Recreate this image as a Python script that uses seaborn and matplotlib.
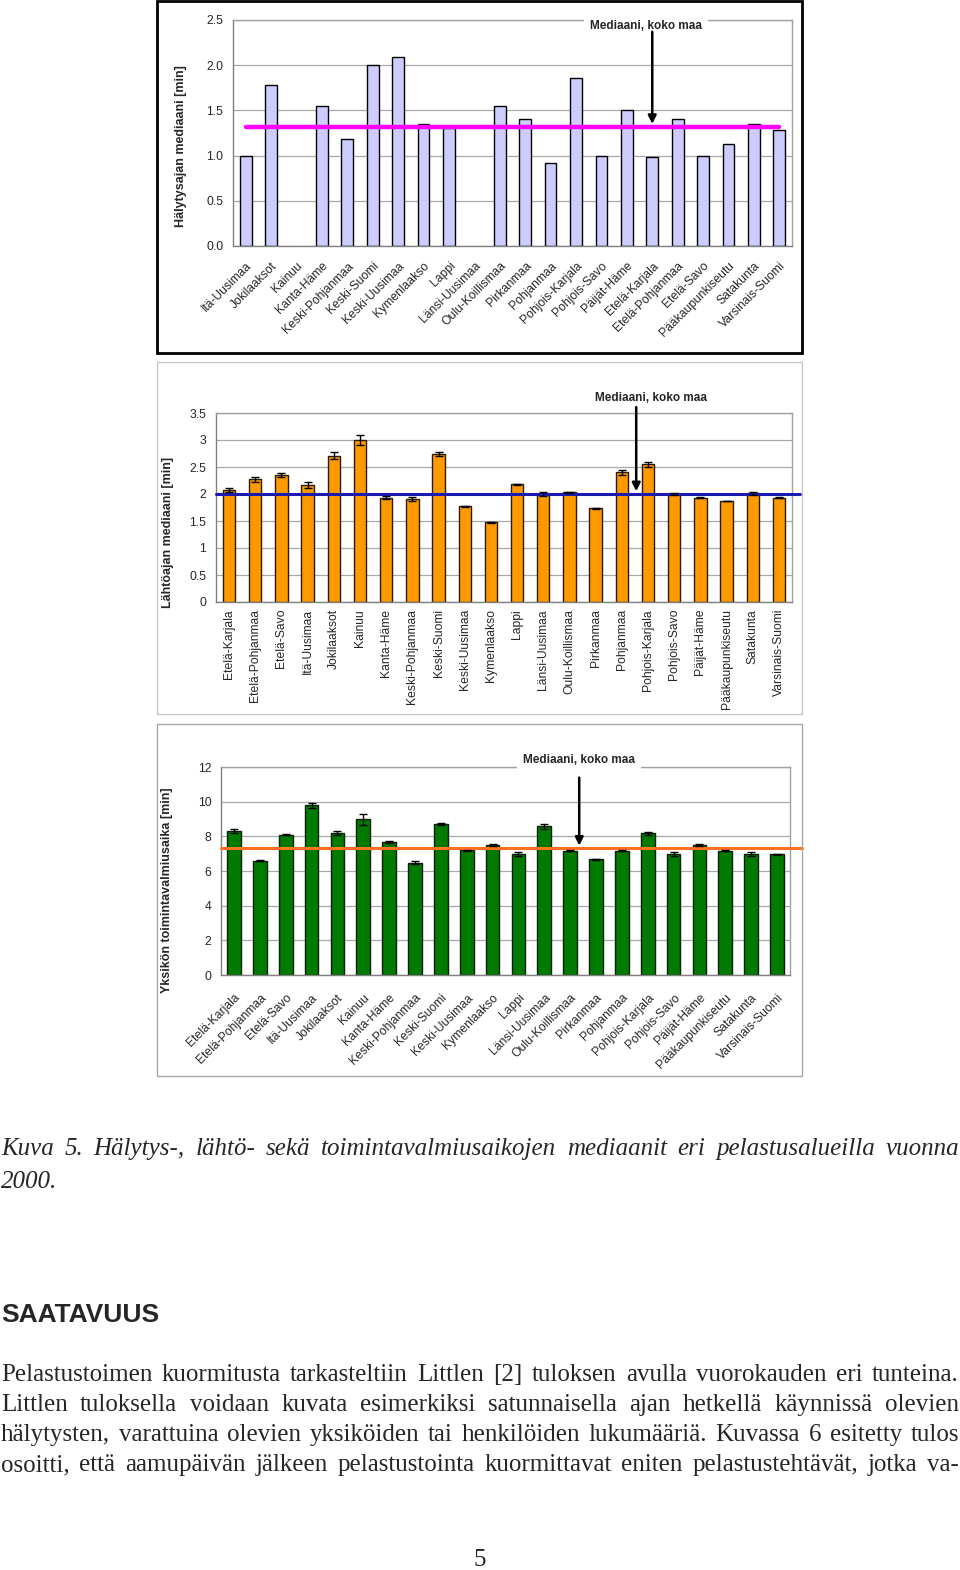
import numpy as np
import pandas as pd
import matplotlib
matplotlib.use("Agg")
import matplotlib.pyplot as plt
from matplotlib.ticker import FixedLocator, AutoMinorLocator
from matplotlib.patches import Rectangle
import seaborn as sns

# --- data ---
# chart 1: alarm time medians (Kainuu and Länsi-Uusimaa have no bar)
alueet_1 = ["Itä-Uusimaa", "Jokilaaksot", "Kainuu", "Kanta-Häme", "Keski-Pohjanmaa",
            "Keski-Suomi", "Keski-Uusimaa", "Kymenlaakso", "Lappi", "Länsi-Uusimaa",
            "Oulu-Koillismaa", "Pirkanmaa", "Pohjanmaa", "Pohjois-Karjala", "Pohjois-Savo",
            "Päijät-Häme", "Etelä-Karjala", "Etelä-Pohjanmaa", "Etelä-Savo",
            "Pääkaupunkiseutu", "Satakunta", "Varsinais-Suomi"]
halytys = [1.0, 1.78, np.nan, 1.55, 1.18, 2.0, 2.09, 1.35, 1.31, np.nan, 1.55, 1.40,
           0.92, 1.86, 1.0, 1.50, 0.98, 1.40, 1.0, 1.13, 1.35, 1.28]
halytys_mediaani = 1.32
halytys_ticks = [0.0, 0.5, 1.0, 1.5, 2.0, 2.5]
halytys_ticklabels = ["0.0", "0.5", "1.0", "1.5", "2.0", "2.5"]

# charts 2 and 3 use the same region order
alueet_2 = ["Etelä-Karjala", "Etelä-Pohjanmaa", "Etelä-Savo", "Itä-Uusimaa", "Jokilaaksot",
            "Kainuu", "Kanta-Häme", "Keski-Pohjanmaa", "Keski-Suomi", "Keski-Uusimaa",
            "Kymenlaakso", "Lappi", "Länsi-Uusimaa", "Oulu-Koillismaa", "Pirkanmaa",
            "Pohjanmaa", "Pohjois-Karjala", "Pohjois-Savo", "Päijät-Häme",
            "Pääkaupunkiseutu", "Satakunta", "Varsinais-Suomi"]
lahto = [2.08, 2.27, 2.35, 2.17, 2.71, 3.0, 1.93, 1.91, 2.74, 1.77, 1.48, 2.18, 2.0,
         2.03, 1.74, 2.40, 2.55, 2.0, 1.93, 1.87, 2.01, 1.93]
lahto_err = [0.04, 0.04, 0.03, 0.05, 0.06, 0.09, 0.03, 0.04, 0.04, 0.01, 0.01, 0.01,
             0.04, 0.01, 0.01, 0.04, 0.05, 0.02, 0.01, 0.005, 0.02, 0.01]
lahto_mediaani = 2.0
lahto_ticks = [0, 0.5, 1, 1.5, 2, 2.5, 3, 3.5]
lahto_ticklabels = ["0", "0.5", "1", "1.5", "2", "2.5", "3", "3.5"]

toiminta = [8.29, 6.60, 8.10, 9.80, 8.19, 8.98, 7.67, 6.49, 8.71, 7.2, 7.48, 6.97, 8.57,
            7.18, 6.68, 7.18, 8.17, 6.97, 7.52, 7.18, 6.97, 6.97]
toiminta_err = [0.12, 0.05, 0.05, 0.15, 0.10, 0.30, 0.04, 0.10, 0.05, 0.03, 0.06, 0.10,
                0.13, 0.02, 0.02, 0.03, 0.10, 0.10, 0.06, 0.02, 0.10, 0.03]
toiminta_mediaani = 7.3
toiminta_ticks = [0, 2, 4, 6, 8, 10, 12]
toiminta_ticklabels = ["0", "2", "4", "6", "8", "10", "12"]

kuvateksti = ["Kuva 5. Hälytys-, lähtö- sekä toimintavalmiusaikojen mediaanit eri pelastusalueilla vuonna",
              "2000."]
otsikko = "SAATAVUUS"
kappale = ["Pelastustoimen kuormitusta tarkasteltiin Littlen [2] tuloksen avulla vuorokauden eri tunteina.",
           "Littlen tuloksella voidaan kuvata esimerkiksi satunnaisella ajan hetkellä käynnissä olevien",
           "hälytysten, varattuina olevien yksiköiden tai henkilöiden lukumääriä. Kuvassa 6 esitetty tulos",
           "osoitti, että aamupäivän jälkeen pelastustointa kuormittavat eniten pelastustehtävät, jotka va-"]
sivunumero = "5"

sns.set_style("white")
plt.rcParams['font.family'] = ['Liberation Sans', 'DejaVu Sans']

W, H = 960, 1570
fig = plt.figure(figsize=(W / 100, H / 100), dpi=100)


def px_axes(x0, y0, x1, y1):
    return fig.add_axes([x0 / W, 1 - y1 / H, (x1 - x0) / W, (y1 - y0) / H])


def frame(x0, y0, x1, y1, color, lw):
    fig.patches.append(Rectangle((x0 / W, 1 - y1 / H), (x1 - x0) / W, (y1 - y0) / H,
                                 transform=fig.transFigure, fill=False,
                                 edgecolor=color, linewidth=lw))


def style_axes(ax, n, ticks, ticklabels, ylabel, label_xy, xpad):
    ax.set_xlim(-0.5, n - 0.5)
    ax.set_ylim(ticks[0], ticks[-1])
    ax.set_yticks(ticks)
    ax.set_yticklabels(ticklabels)
    ax.yaxis.set_minor_locator(AutoMinorLocator(5))
    ax.xaxis.set_minor_locator(FixedLocator(np.arange(n + 1) - 0.5))
    ax.tick_params(axis='x', which='major', length=0, pad=xpad, labelsize=8.7)
    ax.tick_params(axis='x', which='minor', length=4, width=0.8, color='#808080', direction='out')
    ax.tick_params(axis='y', which='major', length=4, width=0.8, color='#808080', labelsize=8.7, pad=3)
    ax.tick_params(axis='y', which='minor', length=2, width=0.6, color='#909090', direction='in')
    ax.grid(axis='y', which='major', color='#A8A8A8', lw=0.9)
    ax.set_axisbelow(True)
    for s in ax.spines.values():
        s.set_color('#A0A0A0')
        s.set_linewidth(1)
    ax.spines['left'].set_color('#808080')
    ax.spines['bottom'].set_color('#808080')
    ax.set_xlabel('')
    ax.set_ylabel(ylabel, fontsize=9, fontweight='bold')
    ax.yaxis.set_label_coords(*label_xy)


# ---------- chart 1 ----------
frame(157, 1, 802, 353, 'black', 2)
ax1 = px_axes(233, 20, 792, 246)
df1 = pd.DataFrame({'alue': alueet_1, 'arvo': halytys})
sns.barplot(data=df1, x='alue', y='arvo', order=alueet_1, color='#CCCCFF',
            edgecolor='black', linewidth=1, width=0.46, saturation=1, errorbar=None, ax=ax1)
style_axes(ax1, len(alueet_1), halytys_ticks, halytys_ticklabels,
           'Hälytysajan mediaani [min]', (-0.083, 0.44), 10)
ax1.set_xticks(range(len(alueet_1)))
ax1.set_xticklabels(alueet_1, rotation=45, ha='right', rotation_mode='anchor')
ax1.plot([0, len(alueet_1) - 1], [halytys_mediaani] * 2, color='#FF00FF', lw=3.2, zorder=4)
ax1.text(15.75, 2.43, 'Mediaani, koko maa', ha='center', va='center', fontsize=8.5,
         fontweight='bold', zorder=6, clip_on=False,
         bbox=dict(boxstyle='square,pad=0.5', fc='white', ec='none'))
ax1.annotate('', xy=(16, halytys_mediaani), xytext=(16, 2.4),
             arrowprops=dict(arrowstyle='-|>', color='black', lw=1.8, mutation_scale=12),
             zorder=7)

# ---------- chart 2 ----------
frame(157, 362, 802, 714, '#C8C8C8', 1)
ax2 = px_axes(216, 413, 792, 602)
df2 = pd.DataFrame({'alue': alueet_2, 'arvo': lahto})
sns.barplot(data=df2, x='alue', y='arvo', order=alueet_2, color='#FF9900',
            edgecolor='#2A1A00', linewidth=1, width=0.47, saturation=1, errorbar=None, ax=ax2)
ax2.errorbar(np.arange(len(alueet_2)), lahto, yerr=lahto_err, fmt='none', ecolor='black',
             elinewidth=1, capsize=3, capthick=1, zorder=5)
style_axes(ax2, len(alueet_2), lahto_ticks, lahto_ticklabels,
           'Lähtöajan mediaani [min]', (-0.073, 0.37), 5)
ax2.set_xticks(range(len(alueet_2)))
ax2.set_xticklabels(alueet_2, rotation=90, ha='center', va='top')
ax2.plot([-0.5, 21.8], [lahto_mediaani] * 2, color='#1A1AB0', lw=2.2, zorder=4, clip_on=False)
ax2.text(16.1, 3.77, 'Mediaani, koko maa', ha='center', va='center', fontsize=8.5,
         fontweight='bold', zorder=6, clip_on=False)
ax2.annotate('', xy=(15.55, lahto_mediaani), xytext=(15.55, 3.66),
             arrowprops=dict(arrowstyle='-|>', color='black', lw=1.8, mutation_scale=12),
             annotation_clip=False, zorder=7)

# ---------- chart 3 ----------
frame(157, 724, 802, 1076, '#A8A8A8', 1)
ax3 = px_axes(221, 767, 790, 975)
df3 = pd.DataFrame({'alue': alueet_2, 'arvo': toiminta})
sns.barplot(data=df3, x='alue', y='arvo', order=alueet_2, color='#007A00',
            edgecolor='#0A200A', linewidth=1, width=0.53, saturation=1, errorbar=None, ax=ax3)
ax3.errorbar(np.arange(len(alueet_2)), toiminta, yerr=toiminta_err, fmt='none', ecolor='black',
             elinewidth=1, capsize=3, capthick=1, zorder=5)
style_axes(ax3, len(alueet_2), toiminta_ticks, toiminta_ticklabels,
           'Yksikön toimintavalmiusaika [min]', (-0.085, 0.41), 12)
ax3.set_xticks(range(len(alueet_2)))
ax3.set_xticklabels(alueet_2, rotation=45, ha='right', rotation_mode='anchor')
ax3.plot([-0.5, 21.96], [toiminta_mediaani] * 2, color='#FF7020', lw=2.2, zorder=4, clip_on=False)
ax3.text(13.35, 12.42, 'Mediaani, koko maa', ha='center', va='center', fontsize=8.5,
         fontweight='bold', zorder=6, clip_on=False,
         bbox=dict(boxstyle='square,pad=0.5', fc='white', ec='none'))
ax3.annotate('', xy=(13.35, toiminta_mediaani), xytext=(13.35, 11.55),
             arrowprops=dict(arrowstyle='-|>', color='black', lw=1.8, mutation_scale=12),
             zorder=7)

# ---------- page text ----------
renderer = fig.canvas.get_renderer()
serif = 'Liberation Serif'


def justified(line, base_y, size, style='normal', x0=1, x1=959):
    words = line.split()
    texts = [fig.text(0, 1 - base_y / H, w, fontsize=size, family=serif,
                      style=style, va='baseline', ha='left') for w in words]
    widths = [t.get_window_extent(renderer).width for t in texts]
    gap = (x1 - x0 - sum(widths)) / (len(words) - 1)
    x = x0
    for t, w in zip(texts, widths):
        t.set_x(x / W)
        x += w + gap


justified(kuvateksti[0], 1155, 18, style='italic')
fig.text(1 / W, 1 - 1188 / H, kuvateksti[1], fontsize=18, family=serif, style='italic',
         va='baseline')
fig.text(1 / W, 1 - 1322 / H, otsikko, fontsize=19, fontweight='bold',
         family='Liberation Sans', va='baseline')
for i, line in enumerate(kappale):
    justified(line, 1381 + 30 * i, 18)
fig.text(480 / W, 1 - 1566 / H, sivunumero, fontsize=18, family=serif, ha='center',
         va='baseline')

fig.savefig('out.png', dpi=100, facecolor='white')
